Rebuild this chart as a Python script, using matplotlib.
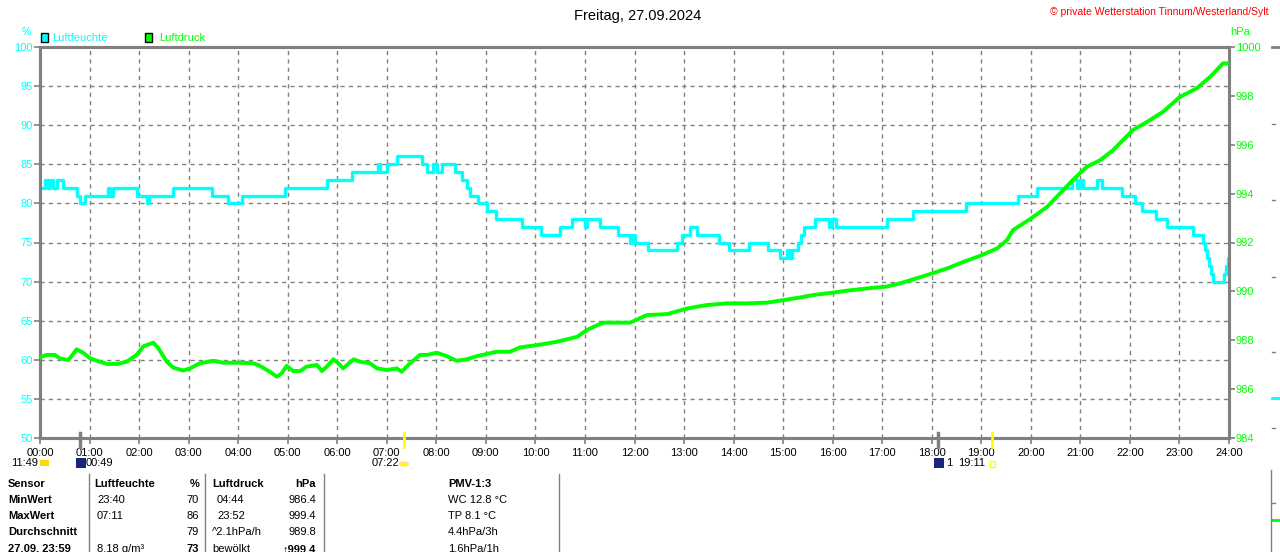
import numpy as np
import matplotlib
matplotlib.use('Agg')
import matplotlib.pyplot as plt
from matplotlib.patches import Rectangle, Circle
from matplotlib.lines import Line2D

plt.rcParams['font.family'] = ['Liberation Sans', 'DejaVu Sans']

### Data ###

# Luftfeuchte (%), step values: hour of day -> value
hum_t = [0.00, 0.10, 0.17, 0.20, 0.26, 0.34, 0.46, 0.75, 0.81, 0.91, 1.37, 1.41,
         1.47, 1.96, 2.16, 2.20, 2.68, 3.47, 3.79, 4.08, 4.95, 5.79, 6.30, 6.82,
         6.86, 7.00, 7.21, 7.71, 7.81, 7.93, 8.01, 8.11, 8.38, 8.52, 8.62, 8.68,
         8.84, 9.02, 9.20, 9.73, 10.11, 10.50, 10.74, 11.00, 11.04, 11.30, 11.67,
         11.91, 11.95, 12.01, 12.27, 12.86, 12.96, 13.12, 13.26, 13.71, 13.91,
         14.31, 14.70, 14.94, 15.08, 15.14, 15.18, 15.30, 15.36, 15.42, 15.65,
         15.93, 15.99, 16.07, 17.10, 17.62, 18.69, 19.74, 20.13, 20.83, 20.93,
         21.00, 21.05, 21.34, 21.44, 21.84, 22.10, 22.24, 22.53, 22.75, 23.27,
         23.48, 23.52, 23.56, 23.60, 23.64, 23.68, 23.90, 23.94, 23.97, 24.00]
hum_v = [82, 83, 82, 83, 82, 83, 82, 81, 80, 81, 82, 81,
         82, 81, 80, 81, 82, 81, 80, 81, 82, 83, 84, 85,
         84, 85, 86, 85, 84, 85, 84, 85, 84, 83, 82, 81,
         80, 79, 78, 77, 76, 77, 78, 77, 78, 77, 76,
         75, 76, 75, 74, 75, 76, 77, 76, 75, 74,
         75, 74, 73, 74, 73, 74, 75, 76, 77, 78,
         77, 78, 77, 78, 79, 80, 81, 82, 83, 82,
         83, 82, 83, 82, 81, 80, 79, 78, 77, 76,
         75, 74, 73, 72, 71, 70, 71, 72, 73, 73]

# Luftdruck (hPa)
p_t = [0.00, 0.13, 0.30, 0.40, 0.57, 0.67, 0.74, 0.87, 1.01, 1.21, 1.35, 1.55,
       1.75, 1.95, 2.09, 2.29, 2.39, 2.56, 2.69, 2.89, 3.03, 3.23, 3.50, 3.70,
       4.04, 4.31, 4.44, 4.64, 4.78, 4.88, 4.98, 5.11, 5.25, 5.38, 5.59, 5.69,
       5.79, 5.92, 6.02, 6.12, 6.33, 6.46, 6.66, 6.80, 7.00, 7.20, 7.30, 7.47,
       7.67, 7.81, 8.01, 8.21, 8.41, 8.61, 8.82, 9.22, 9.49, 9.69, 10.03, 10.44,
       10.84, 11.04, 11.36, 11.91, 12.25, 12.66, 13.06, 13.46, 13.87, 14.27,
       14.68, 14.94, 15.34, 15.60, 16.01, 16.29, 16.69, 17.10, 17.36, 17.62,
       17.97, 18.31, 18.63, 18.97, 19.32, 19.52, 19.64, 19.98, 20.33, 20.59,
       20.85, 21.13, 21.40, 21.66, 22.06, 22.35, 22.67, 23.01, 23.35, 23.62,
       23.88, 24.00]
p_v = [987.30, 987.40, 987.40, 987.26, 987.19, 987.44, 987.63, 987.49, 987.26,
       987.12, 987.03, 987.03, 987.12, 987.40, 987.76, 987.90, 987.67, 987.12,
       986.88, 986.76, 986.85, 987.06, 987.16, 987.08, 987.08, 987.06, 986.95,
       986.71, 986.51, 986.65, 986.95, 986.74, 986.74, 986.92, 986.99, 986.74,
       986.92, 987.22, 987.06, 986.85, 987.22, 987.12, 987.06, 986.85, 986.78,
       986.85, 986.71, 987.06, 987.40, 987.40, 987.49, 987.35, 987.16, 987.22,
       987.35, 987.53, 987.53, 987.71, 987.80, 987.94, 988.14, 988.42, 988.72,
       988.72, 989.03, 989.07, 989.30, 989.44, 989.51, 989.51, 989.54, 989.62,
       989.75, 989.85, 989.95, 990.03, 990.12, 990.20, 990.33, 990.49, 990.71,
       990.94, 991.20, 991.45, 991.76, 992.10, 992.51, 992.95, 993.46, 994.01,
       994.56, 995.10, 995.37, 995.78, 996.60, 996.94, 997.35, 997.96, 998.31,
       998.78, 999.33, 999.33]

hours = list(range(25))
hour_labels = ['%02d:00' % h for h in hours]
hum_ticks = list(range(50, 101, 5))
p_ticks = list(range(984, 1001, 2))

# table below chart
tab_rows = ['Sensor', 'MinWert', 'MaxWert', 'Durchschnitt', '27.09. 23:59']
tab_hum_time = ['Luftfeuchte', '23:40', '07:11', '', '8.18 g/m³']
tab_hum_val = ['%', '70', '86', '79', '73']
tab_p_time = ['Luftdruck', '04:44', '23:52', '^2.1hPa/h', 'bewölkt']
tab_p_val = ['hPa', '986.4', '999.4', '989.8', '999.4']
tab_pmv = ['PMV-1:3', 'WC 12.8 °C', 'TP 8.1 °C', '4.4hPa/3h', '1.6hPa/1h']

CYAN = '#00ffff'
GREEN = '#00ff00'
GRAY = '#808080'

W, H = 1280, 552
fig = plt.figure(figsize=(12.8, 5.52), dpi=100)
fig.patch.set_facecolor('white')


def fx(x):
    return x / W


def fy(y):
    return 1 - y / H


ax = fig.add_axes([fx(40), fy(438), fx(1229) - fx(40), fy(47) - fy(438)])
ax2 = ax.twinx()

ax.plot(hum_t, hum_v, drawstyle='steps-post', color=CYAN, lw=2.4, zorder=3)
ax2.plot(p_t, p_v, color=GREEN, lw=2.8, zorder=3)

ax.set_xlim(0, 24)
ax.set_ylim(50, 100)
ax2.set_ylim(984, 1000)

ax.set_xticks(hours)
ax.set_xticklabels(hour_labels)
ax.set_yticks(hum_ticks)
ax2.set_yticks(p_ticks)

ax.tick_params(axis='x', direction='out', length=4, width=1.2, color=GRAY,
               labelsize=8, labelcolor='black', pad=3)
ax.tick_params(axis='y', direction='out', length=4, width=1.2, color=GRAY,
               labelsize=8, labelcolor=CYAN, pad=1)
ax2.tick_params(axis='y', direction='out', length=4, width=1.2, color=GRAY,
                labelsize=8, labelcolor=GREEN, pad=1)

ax.grid(True, color=GRAY, linestyle=(0, (3, 3)), lw=1)
for a in (ax, ax2):
    for s in a.spines.values():
        s.set_color(GRAY)
        s.set_linewidth(2.2)

# titles & axis units
fig.text(fx(638), fy(16), 'Freitag, 27.09.2024', ha='center', va='center', fontsize=10.5)
fig.text(fx(1268), fy(12), '© private Wetterstation Tinnum/Westerland/Sylt',
         ha='right', va='center', fontsize=7.5, color='red')
fig.text(fx(26), fy(32), '%', ha='center', va='center', fontsize=7.5, color=CYAN)
fig.text(fx(1240), fy(32), 'hPa', ha='center', va='center', fontsize=8, color=GREEN)

# legend
fig.patches.append(Rectangle((fx(41), fy(42)), fx(7), fy(33) - fy(42), transform=fig.transFigure,
                             facecolor=CYAN, edgecolor='black', lw=1))
fig.text(fx(52), fy(38), 'Luftfeuchte', va='center', fontsize=8, color=CYAN)
fig.patches.append(Rectangle((fx(145), fy(42)), fx(7), fy(33) - fy(42), transform=fig.transFigure,
                             facecolor=GREEN, edgecolor='black', lw=1))
fig.text(fx(159), fy(38), 'Luftdruck', va='center', fontsize=8, color=GREEN)

# sun / moon markers on the time axis
for x, c, lw in [(404, 'yellow', 2), (992, 'yellow', 2), (80, GRAY, 2.5), (938, GRAY, 2.5)]:
    fig.lines.append(Line2D([fx(x), fx(x)], [fy(433), fy(447)], transform=fig.transFigure,
                            color=c, lw=lw))
fig.text(fx(11), fy(463), '11:49', va='center', fontsize=8)
fig.patches.append(Rectangle((fx(40), fy(466)), fx(9), fy(460) - fy(466), transform=fig.transFigure,
                             facecolor='#ffd800', edgecolor='none'))
fig.patches.append(Rectangle((fx(76), fy(468)), fx(10), fy(458) - fy(468), transform=fig.transFigure,
                             facecolor='#1a237e', edgecolor='none'))
fig.text(fx(86), fy(463), '00:49', va='center', fontsize=8)
fig.text(fx(372), fy(463), '07:22', va='center', fontsize=8)
fig.patches.append(Circle((fx(404), fy(464)), 0.0035, transform=fig.transFigure,
                          facecolor='yellow', edgecolor='#ffe080'))
fig.patches.append(Rectangle((fx(934), fy(468)), fx(10), fy(458) - fy(468), transform=fig.transFigure,
                             facecolor='#1a237e', edgecolor='none'))
fig.text(fx(946), fy(463), '1', va='center', fontsize=8)
fig.text(fx(958), fy(463), '19:11', va='center', fontsize=8)
fig.patches.append(Rectangle((fx(990), fy(467)), fx(5), fy(461) - fy(467), transform=fig.transFigure,
                             facecolor='white', edgecolor='yellow', lw=1))

# table
row_y = [484, 500, 516, 532, 549]
for i, y in enumerate(row_y):
    head = i == 0
    fig.text(fx(8), fy(y), tab_rows[i], va='center', fontsize=8, fontweight='bold')
    fig.text(fx(94 if head else 97), fy(y), tab_hum_time[i], va='center', fontsize=8,
             fontweight='bold' if head else 'normal')
    fig.text(fx(199), fy(y), tab_hum_val[i], va='center', ha='right', fontsize=8,
             fontweight='bold' if head or i == 4 else 'normal')
    fig.text(fx(212 if head or i >= 3 else 217), fy(y), tab_p_time[i], va='center', fontsize=8,
             fontweight='bold' if head else 'normal')
    fig.text(fx(316), fy(y), ('↑' if i == 4 else '') + tab_p_val[i], va='center', ha='right',
             fontsize=8, fontweight='bold' if head or i == 4 else 'normal')
    fig.text(fx(448), fy(y), tab_pmv[i], va='center', fontsize=8,
             fontweight='bold' if head else 'normal')
for x in [89, 205, 324, 559]:
    fig.lines.append(Line2D([fx(x), fx(x)], [fy(474), 0], transform=fig.transFigure,
                            color=GRAY, lw=1))

# cut-off neighbour chart at the right edge
fig.lines.append(Line2D([fx(1272), 1], [fy(47), fy(47)], transform=fig.transFigure, color=GRAY, lw=2))
for y in [124, 200, 277, 352, 428, 503]:
    fig.lines.append(Line2D([fx(1272), fx(1275)], [fy(y), fy(y)], transform=fig.transFigure,
                            color=GRAY, lw=1))
fig.lines.append(Line2D([fx(1272), 1], [fy(398), fy(398)], transform=fig.transFigure, color=CYAN, lw=2))
fig.lines.append(Line2D([fx(1272), 1], [fy(520), fy(520)], transform=fig.transFigure, color=GREEN, lw=2))
fig.lines.append(Line2D([fx(1271), fx(1271)], [fy(470), 0], transform=fig.transFigure, color=GRAY, lw=1))

fig.savefig('out.png', dpi=100)
